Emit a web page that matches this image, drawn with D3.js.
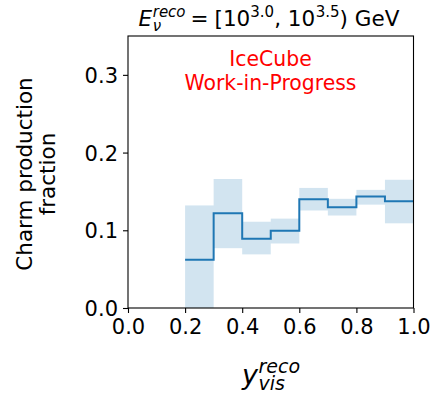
<!DOCTYPE html>
<html>
<head>
<meta charset="utf-8">
<script src="https://cdn.jsdelivr.net/npm/d3@7"></script>
<style>
  html, body { margin: 0; padding: 0; background: #fff; }
  svg { display: block; font-family: "DejaVu Sans", sans-serif; }
</style>
</head>
<body>
<svg id="chart" width="430" height="396"></svg>
<script>
// Bin edges in y_vis^reco
const binLo = [0.2, 0.3, 0.4, 0.5, 0.6, 0.7, 0.8, 0.9];
const binHi = [0.3, 0.4, 0.5, 0.6, 0.7, 0.8, 0.9, 1.0];
// Charm production fraction per bin, with its uncertainty band
const fraction = [0.062, 0.122, 0.089, 0.0995, 0.140, 0.1295, 0.1435, 0.1375];
const bandLow  = [0.000, 0.077, 0.069, 0.083, 0.1255, 0.119, 0.133, 0.109];
const bandHigh = [0.132, 0.166, 0.111, 0.115, 0.1545, 0.1405, 0.152, 0.165];
const xTicks = [0.0, 0.2, 0.4, 0.6, 0.8, 1.0];
const yTicks = [0.0, 0.1, 0.2, 0.3];

const svg = d3.select("#chart");
const plotLeft = 128, plotRight = 413.5, plotTop = 36, plotBottom = 308;
const x = d3.scaleLinear().domain([0, 1]).range([plotLeft, plotRight]);
const y = d3.scaleLinear().domain([0, 0.35]).range([plotBottom, plotTop]);

const blue = "#1f77b4";
const bins = binLo.map((lo, i) => ({lo, hi: binHi[i], v: fraction[i], lo_e: bandLow[i], hi_e: bandHigh[i]}));

// uncertainty band
svg.append("g").selectAll("rect").data(bins).join("rect")
  .attr("x", d => x(d.lo)).attr("width", d => x(d.hi) - x(d.lo))
  .attr("y", d => y(d.hi_e)).attr("height", d => y(d.lo_e) - y(d.hi_e))
  .attr("fill", blue).attr("fill-opacity", 0.2);

// step line
const pts = [];
bins.forEach(d => { pts.push([d.lo, d.v]); pts.push([d.hi, d.v]); });
svg.append("path")
  .attr("d", d3.line().x(p => x(p[0])).y(p => y(p[1]))(pts))
  .attr("fill", "none").attr("stroke", blue).attr("stroke-width", 2);

// frame
svg.append("rect").attr("x", plotLeft).attr("y", plotTop)
  .attr("width", plotRight - plotLeft).attr("height", plotBottom - plotTop)
  .attr("fill", "none").attr("stroke", "#000").attr("stroke-width", 1.1);

// axes
const xAxis = svg.append("g").attr("transform", `translate(0,${plotBottom})`)
  .call(d3.axisBottom(x).tickValues(xTicks).tickFormat(d3.format(".1f")).tickSize(5).tickPadding(4));
const yAxis = svg.append("g").attr("transform", `translate(${plotLeft},0)`)
  .call(d3.axisLeft(y).tickValues(yTicks).tickFormat(d3.format(".1f")).tickSize(5).tickPadding(5));
[xAxis, yAxis].forEach(a => {
  a.select(".domain").remove();
  a.selectAll("line").attr("stroke", "#000").attr("stroke-width", 1.1);
  a.selectAll("text").attr("font-family", "DejaVu Sans").attr("font-size", 21).attr("fill", "#000");
});
xAxis.selectAll("text").attr("dy", "0.82em");
yAxis.selectAll("text").attr("dy", "0.36em");

// y label (two lines)
const yl = svg.append("text").attr("transform", "translate(32,174) rotate(-90)")
  .attr("text-anchor", "middle").attr("font-size", 21.5).attr("fill", "#000");
yl.append("tspan").attr("x", 0).attr("y", 0).text("Charm production");
yl.append("tspan").attr("x", 0).attr("y", 23).text("fraction");

// watermark
const wm = svg.append("text").attr("text-anchor", "middle").attr("font-size", 20.4).attr("fill", "#ff0000");
wm.append("tspan").attr("x", 270.5).attr("y", 66).text("IceCube");
wm.append("tspan").attr("x", 270.5).attr("y", 90).text("Work-in-Progress");

// simple math-style text: sequence of runs, with optional stacked sup/sub
function mathText(cx, baseY, parts) {
  const g = svg.append("g");
  let cursor = 0;
  parts.forEach(p => {
    const items = p.stack ? p.stack : [p];
    let adv = 0;
    items.forEach(it => {
      const t = g.append("text").attr("x", cursor).attr("y", baseY + (it.shift || 0))
        .attr("font-size", it.size).attr("fill", "#000")
        .attr("font-style", it.italic ? "italic" : "normal")
        .attr("xml:space", "preserve")
        .text(it.text);
      adv = Math.max(adv, t.node().getComputedTextLength());
    });
    cursor += adv + (p.gap || 0);
  });
  g.attr("transform", `translate(${cx - cursor / 2},0)`);
  return g;
}

mathText(269, 26, [
  {text: "E", italic: true, size: 21.5, gap: 0.5},
  {stack: [{text: "reco", italic: true, size: 15, shift: -9}, {text: "ν", italic: true, size: 15, shift: 5}], gap: 5},
  {text: "=", size: 21.5, gap: 6},
  {text: "[10", size: 21.5},
  {text: "3.0", size: 15, shift: -9},
  {text: ", 10", size: 21.5, gap: 0.5},
  {text: "3.5", size: 15, shift: -9},
  {text: ") GeV", size: 21.5}
]);

mathText(271, 384, [
  {text: "y", italic: true, size: 27, gap: 0.5},
  {stack: [{text: "reco", italic: true, size: 19, shift: -11}, {text: "vis", italic: true, size: 19, shift: 6}]}
]);
</script>
</body>
</html>
